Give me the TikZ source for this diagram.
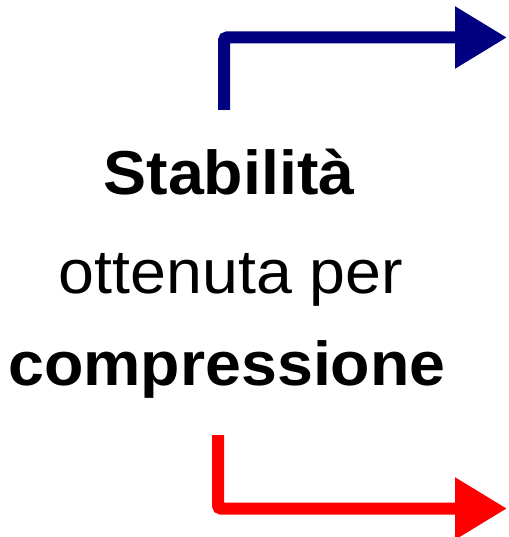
\documentclass[tikz,border=0pt]{standalone}
\usepackage{fontspec}
\setmainfont{Liberation Sans}
\usetikzlibrary{arrows.meta}
\definecolor{navyblu}{RGB}{0,0,128}
\definecolor{rosso}{RGB}{255,0,0}
\newcommand{\largo}[1]{\scalebox{1.04}[1]{#1}}
\tikzset{
  freccia/.style={line width=12pt, rounded corners=3pt,
    -{Triangle[length=52pt,width=59pt]}},
  testo/.style={anchor=base, inner sep=0pt, font=\fontsize{62}{74}\selectfont}
}
\begin{document}
\begin{tikzpicture}[x=1pt,y=-1pt]
	\useasboundingbox (0,0) rectangle (508,537);

	\node[testo] (stab) at (229,195) {\largo{\textbf{Stabilità}}};%prima riga
	\node[testo] (ott) at (231,293) {\largo{ottenuta per}};%seconda riga
	\node[testo] (comp) at (227,385) {\largo{\textbf{compressione}}};%terza riga

	\coordinate (blu1) at (224,110);
	\coordinate (blu2) at (507,37.5);
	\coordinate (ros1) at (218,435);
	\coordinate (ros2) at (507,508.5);

	\draw[freccia, navyblu] (blu1) |- (blu2);%freccia in alto
	\draw[freccia, rosso] (ros1) |- (ros2);%freccia in basso

\end{tikzpicture}
\end{document}
